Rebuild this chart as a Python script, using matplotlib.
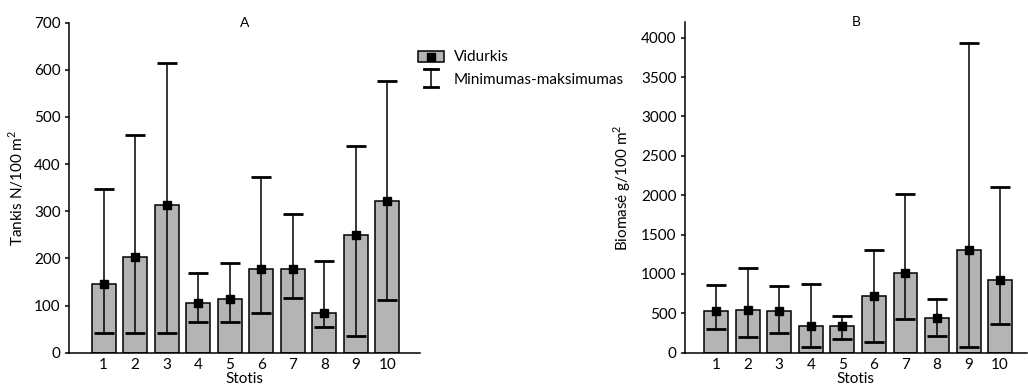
import matplotlib
matplotlib.use("Agg")
import matplotlib.pyplot as plt
from matplotlib.patches import Rectangle
from matplotlib.lines import Line2D
import numpy as np

stations = list(range(1, 11))

# density, N/100 m2
dens_mean = [145, 202, 314, 106, 113, 178, 177, 84, 249, 322]
dens_min = [42, 42, 42, 66, 65, 85, 116, 55, 35, 112]
dens_max = [347, 461, 614, 170, 191, 372, 294, 195, 439, 576]

# biomass, g/100 m2
bio_mean = [535, 540, 535, 345, 340, 722, 1010, 444, 1302, 918]
bio_min = [300, 195, 253, 76, 169, 136, 427, 212, 76, 367]
bio_max = [858, 1070, 849, 866, 461, 1302, 2015, 681, 3938, 2100]

plt.rcParams['font.family'] = ['Lato', 'DejaVu Sans']
plt.rcParams['font.size'] = 11
plt.rcParams['mathtext.fontset'] = 'custom'
plt.rcParams['mathtext.rm'] = 'Lato'

bar_color = '#b4b4b4'
W, H = 1028, 388

fig = plt.figure(figsize=(W / 100, H / 100), dpi=100)
ax1 = fig.add_axes([0.0671, 0.091, 0.3415, 0.8505])
ax2 = fig.add_axes([0.6663, 0.091, 0.3327, 0.8524])


def draw_panel(ax, mean, lo, hi, ylim, yticks, ylabel, title, xlim):
    x = np.array(stations)
    mean = np.array(mean)
    err = [mean - np.array(lo), np.array(hi) - mean]
    ax.bar(x, mean, width=0.76, color=bar_color, edgecolor='black', linewidth=1.1, zorder=2)
    ax.errorbar(x, mean, yerr=err, fmt='s', color='black', ms=5.5, elinewidth=1.1,
                capsize=7, capthick=2, zorder=3)
    ax.set_xlim(*xlim)
    ax.set_ylim(*ylim)
    ax.set_yticks(yticks)
    ax.set_xticks(x)
    ax.tick_params(axis='x', length=0, pad=3.5)
    ax.tick_params(axis='y', length=3, width=1.1, pad=3)
    for s in ['top', 'right']:
        ax.spines[s].set_visible(False)
    for s in ['left', 'bottom']:
        ax.spines[s].set_linewidth(1.1)
    ax.set_xlabel('Stotis', labelpad=0.5)
    ax.set_ylabel(ylabel, labelpad=6)
    ax.text(0.5, 1.0, title, transform=ax.transAxes, ha='center', va='center', fontsize=10)


draw_panel(ax1, dens_mean, dens_min, dens_max, (0, 700), range(0, 701, 100),
           r'Tankis N/100 m$^{\mathregular{2}}$', 'A', (-0.1, 11.04))
draw_panel(ax2, bio_mean, bio_min, bio_max, (0, 4200), range(0, 4001, 500),
           r'Biomasė g/100 m$^{\mathregular{2}}$', 'B', (0.01, 10.85))


# hand-drawn legend between the panels (pixel positions from top-left)
def fx(px):
    return px / W


def fy(py):
    return 1 - py / H


fig.add_artist(Rectangle((fx(418), fy(62)), fx(26), 11 / H, transform=fig.transFigure,
                         facecolor=bar_color, edgecolor='black', linewidth=1.1))
fig.add_artist(Line2D([fx(431)], [fy(56.5)], marker='s', ms=5.5, color='black',
                      transform=fig.transFigure))
fig.add_artist(Line2D([fx(431), fx(431)], [fy(69), fy(87)], color='black', lw=1.1,
                      transform=fig.transFigure))
for yy in (69, 87):
    fig.add_artist(Line2D([fx(424), fx(438)], [fy(yy), fy(yy)], color='black', lw=2,
                          transform=fig.transFigure))
fig.text(fx(454), fy(57), 'Vidurkis', ha='left', va='center')
fig.text(fx(454), fy(80), 'Minimumas-maksimumas', ha='left', va='center')

fig.savefig('out.png', dpi=100)
